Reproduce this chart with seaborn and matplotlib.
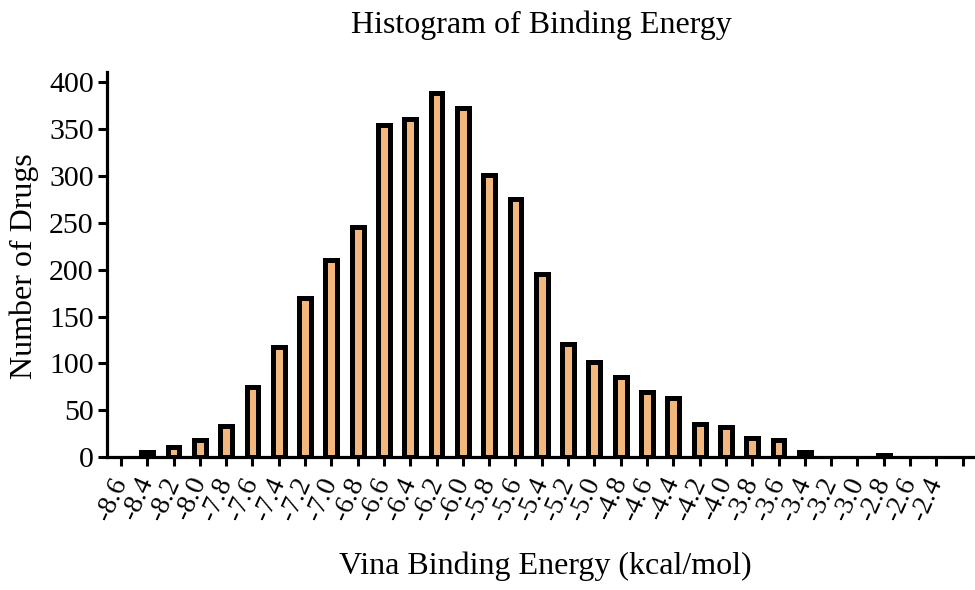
import matplotlib
matplotlib.use("Agg")
import matplotlib.pyplot as plt
import seaborn as sns
import pandas as pd

# ---- data ----
energy_labels = ["-8.6", "-8.4", "-8.2", "-8.0", "-7.8", "-7.6", "-7.4", "-7.2",
                 "-7.0", "-6.8", "-6.6", "-6.4", "-6.2", "-6.0", "-5.8", "-5.6",
                 "-5.4", "-5.2", "-5.0", "-4.8", "-4.6", "-4.4", "-4.2", "-4.0",
                 "-3.8", "-3.6", "-3.4", "-3.2", "-3.0", "-2.8", "-2.6", "-2.4", ""]
drug_counts = [0, 6, 11, 18, 33, 75, 118, 170, 210, 245, 354, 361, 388, 372, 301, 275,
               195, 121, 102, 86, 70, 63, 36, 32, 21, 18, 6, 0, 0, 2, 0, 0, 0]
y_ticks = [0, 50, 100, 150, 200, 250, 300, 350, 400]

title_text = "Histogram of Binding Energy"
x_label = "Vina Binding Energy (kcal/mol)"
y_label = "Number of Drugs"

bin_ids = [f"b{i}" for i in range(len(energy_labels))]
df = pd.DataFrame({"bin": bin_ids, "count": drug_counts})

sns.set_theme(style="ticks")
plt.rcParams["font.family"] = ["Liberation Serif", "DejaVu Serif"]
plt.rcParams["text.color"] = "black"
plt.rcParams["xtick.color"] = "black"
plt.rcParams["ytick.color"] = "black"

fig = plt.figure(figsize=(9.75, 5.9), dpi=100)
ax = fig.add_axes([107 / 975, 1 - 457.3 / 590, (975 - 107) / 975, (457.3 - 71.7) / 590])

sns.barplot(data=df, x="bin", y="count", order=bin_ids, color="#F2B77C",
            saturation=1, width=0.45, edgecolor="black", linewidth=3.6,
            errorbar=None, ax=ax)

# empty bins leave no mark on the axis
for patch in ax.patches:
    if patch.get_height() == 0:
        patch.set_visible(False)

ax.set_xlim(-0.53, 32.47)
ax.set_ylim(0, 411)
ax.set_yticks(y_ticks)
ax.set_yticklabels([str(v) for v in y_ticks], fontsize=21.5)
ax.set_xticks(range(len(energy_labels)))
ax.set_xticklabels(energy_labels, rotation=66, ha="right", va="center",
                   rotation_mode="anchor", fontsize=20)
ax.set_xlabel("")
ax.set_ylabel("")

for s in ["top", "right"]:
    ax.spines[s].set_visible(False)
for s in ["left", "bottom"]:
    ax.spines[s].set_linewidth(2.3)
    ax.spines[s].set_color("black")
ax.tick_params(axis="both", direction="out", length=6.5, width=2.2, color="black",
               labelcolor="black")
ax.tick_params(axis="y", pad=3)
ax.tick_params(axis="x", pad=9)

fig.text(541 / 975, 1 - 25 / 590, title_text, ha="center", va="center", fontsize=23)
fig.text(545 / 975, 1 - 566 / 590, x_label, ha="center", va="center", fontsize=23)
fig.text(24 / 975, 1 - 266 / 590, y_label, ha="center", va="center", rotation=90,
         fontsize=23)

fig.savefig("out.png", dpi=100)
